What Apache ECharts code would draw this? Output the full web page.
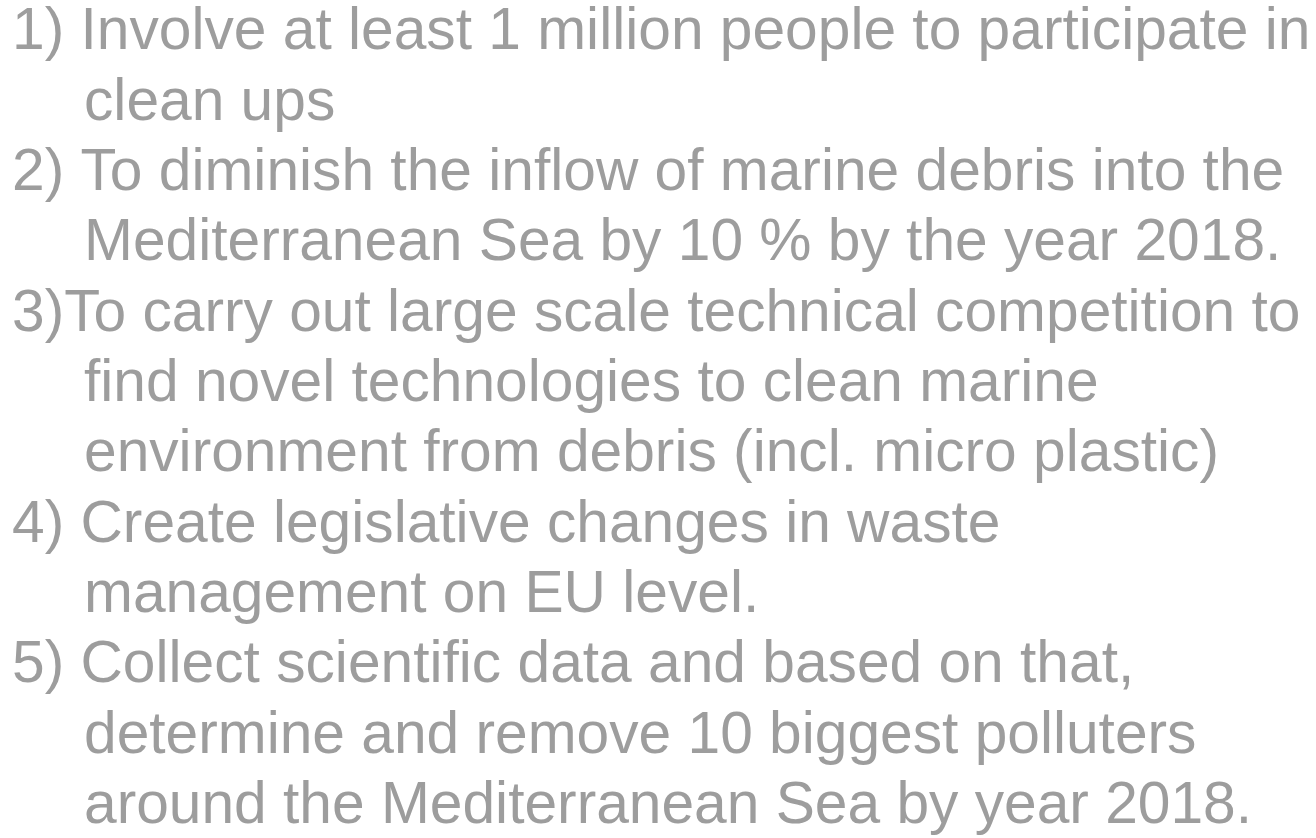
<!DOCTYPE html>
<html>
<head>
<meta charset="utf-8">
<script src="https://cdn.jsdelivr.net/npm/echarts@6/dist/echarts.min.js"></script>
<style>
html,body{margin:0;padding:0;background:#fff;}
#chart{width:1316px;height:838px;}
</style>
</head>
<body>
<div id="chart"></div>
<script>
const lines = [
  "1) Involve at least 1 million people to participate in",
  "clean ups",
  "2) To diminish the inflow of marine debris into the",
  "Mediterranean Sea by 10 % by the year 2018.",
  "3)To carry out large scale technical competition to",
  "find novel technologies to clean marine",
  "environment from debris (incl. micro plastic)",
  "4) Create legislative changes in waste",
  "management on EU level.",
  "5) Collect scientific data and based on that,",
  "determine and remove 10 biggest polluters",
  "around the Mediterranean Sea by year 2018."
];
const indentLevel = [0, 1, 0, 1, 0, 1, 1, 0, 1, 0, 1, 1];

const chart = echarts.init(document.getElementById('chart'), null, {renderer: 'canvas'});
chart.setOption({
  backgroundColor: '#ffffff',
  animation: false,
  grid: {left: 12, top: 33, width: 72, height: 774, containLabel: false},
  xAxis: {type: 'value', min: 0, max: 1, show: false},
  yAxis: {type: 'value', min: 0, max: lines.length - 1, inverse: true, show: false},
  series: [{
    type: 'scatter',
    symbolSize: 0,
    clip: false,
    data: lines.map((t, i) => ({name: t, value: [indentLevel[i], i]})),
    label: {
      show: true,
      position: 'inside',
      align: 'left',
      verticalAlign: 'middle',
      formatter: p => p.name,
      color: '#848484',
      fontFamily: "'Liberation Sans', Arial, sans-serif",
      fontSize: 58.7
    },
    emphasis: {disabled: true}
  }]
});
</script>
</body>
</html>
